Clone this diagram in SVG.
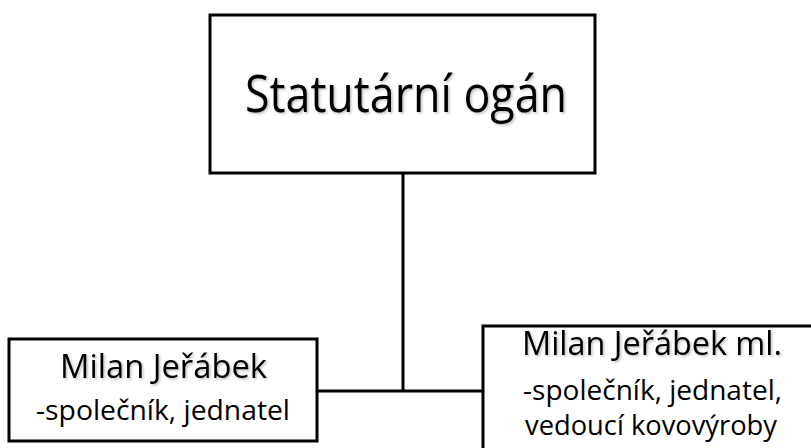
<svg xmlns="http://www.w3.org/2000/svg" width="811" height="448" viewBox="0 0 811 448">
<style>
.box{fill:#fff;stroke:#000;stroke-width:3}
.con{fill:none;stroke:#000;stroke-width:3}
.t{font-family:"Open Sans","Liberation Sans",sans-serif;fill:#000;text-anchor:start}
</style>
<defs>
<filter id="sh" x="-5%" y="-20%" width="110%" height="140%">
<feDropShadow dx="1.5" dy="1.5" stdDeviation="1" flood-color="#000" flood-opacity="0.25"/>
</filter>
</defs>
<rect width="811" height="448" fill="#fff"/>
<g id="connectors">
<path class="con" d="M403 173 V391"/>
<path class="con" d="M317 391 H483"/>
</g>
<g id="top">
<rect class="box" x="210" y="15" width="385" height="158"/>
<text class="t" x="245" y="112" font-size="52" textLength="322" lengthAdjust="spacingAndGlyphs" filter="url(#sh)">Statutární ogán</text>
</g>
<g id="left">
<rect class="box" x="9" y="339" width="308" height="102"/>
<text class="t" x="60" y="378" font-size="32" textLength="207" lengthAdjust="spacingAndGlyphs" filter="url(#sh)">Milan Jeřábek</text>
<text class="t" x="36" y="420" font-size="28" textLength="254" lengthAdjust="spacingAndGlyphs">-společník, jednatel</text>
</g>
<g id="right">
<rect class="box" x="483" y="326" width="340" height="140"/>
<text class="t" x="522" y="355" font-size="32" textLength="260" lengthAdjust="spacingAndGlyphs" filter="url(#sh)">Milan Jeřábek ml.</text>
<text class="t" x="523" y="400" font-size="28" textLength="259" lengthAdjust="spacingAndGlyphs">-společník, jednatel,</text>
<text class="t" x="525" y="435" font-size="28" textLength="252" lengthAdjust="spacingAndGlyphs">vedoucí kovovýroby</text>
</g>
</svg>
